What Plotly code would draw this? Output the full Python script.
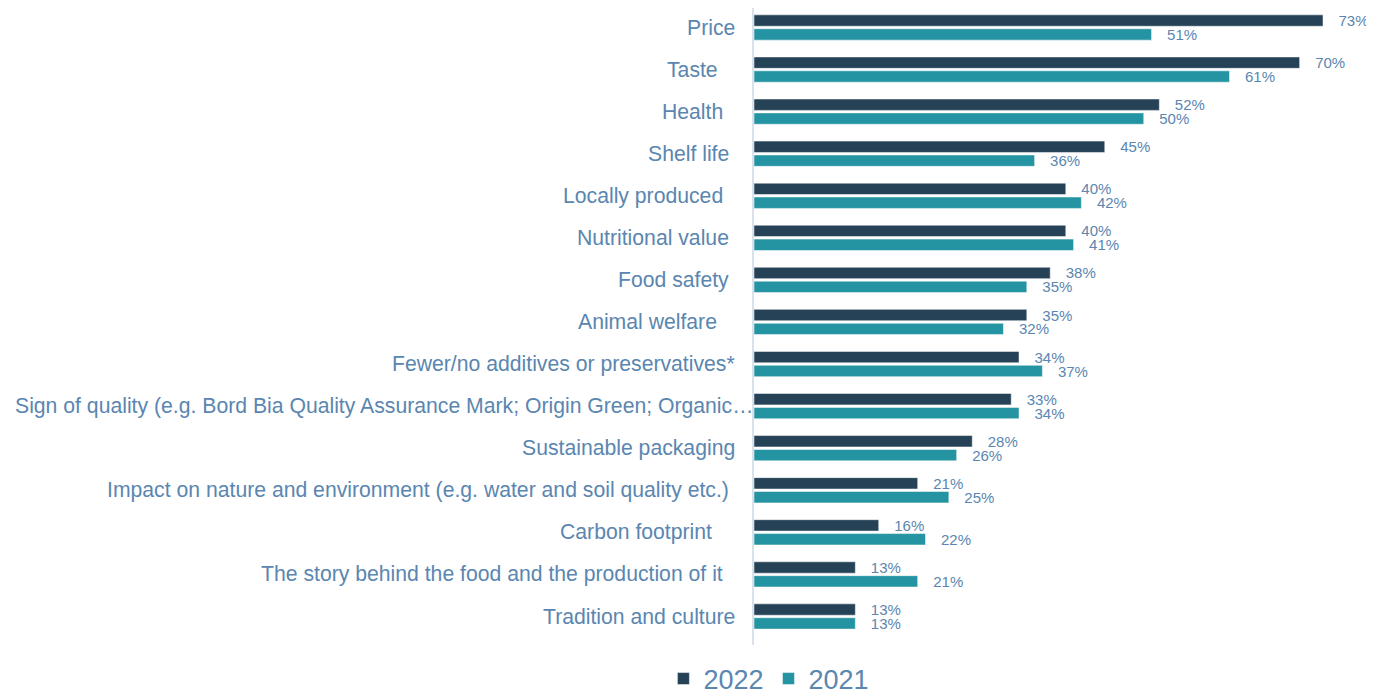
import plotly.graph_objects as go

categories = [
    "Price",
    "Taste",
    "Health",
    "Shelf life",
    "Locally produced",
    "Nutritional value",
    "Food safety",
    "Animal welfare",
    "Fewer/no additives or preservatives*",
    "Sign of quality (e.g. Bord Bia Quality Assurance Mark; Origin Green; Organic…",
    "Sustainable packaging",
    "Impact on nature and environment (e.g. water and soil quality etc.)",
    "Carbon footprint",
    "The story behind the food and the production of it",
    "Tradition and culture",
]
# trailing spaces in the original labels (negative = label overflows toward axis)
label_pad = [0, 3, 2, 1, 2, 1, 1, 3, 0, -3, 0, 1, 4, 2, 0]
values_2022 = [73, 70, 52, 45, 40, 40, 38, 35, 34, 33, 28, 21, 16, 13, 13]
values_2021 = [51, 61, 50, 36, 42, 41, 35, 32, 37, 34, 26, 25, 22, 21, 13]

NAVY = "#264257"
TEAL = "#2494A2"
LABEL = "#5A86B0"
FONT = "Liberation Sans, Arial, sans-serif"
TICK_SIZE = 21.2
SPACE_W = 0.278 * TICK_SIZE


def lbl(vals):
    return ["\u00a0\u00a0\u00a0%d%%" % v for v in vals]


fig = go.Figure()
for name, vals, col in [("2022", values_2022, NAVY), ("2021", values_2021, TEAL)]:
    fig.add_trace(go.Bar(
        y=categories, x=vals, name=name, orientation="h",
        marker=dict(color=col, line=dict(color="white", width=0.5)),
        text=lbl(vals), textposition="outside", cliponaxis=False,
        constraintext="none",
        textfont=dict(color=LABEL, size=15, family=FONT),
    ))

annotations = []
for cat, pad in zip(categories, label_pad):
    annotations.append(dict(
        x=0, xref="paper", y=cat, yref="y",
        text=cat + "\u00a0" * max(pad, 0),
        xanchor="right", yanchor="middle",
        xshift=-17 - min(pad, 0) * SPACE_W,
        showarrow=False,
        font=dict(size=TICK_SIZE, color=LABEL, family=FONT),
    ))

fig.update_layout(
    width=1366, height=681,
    margin=dict(l=746, r=12, t=0, b=44, autoexpand=False),
    paper_bgcolor="white", plot_bgcolor="white",
    barmode="group", bargap=0.34, bargroupgap=0.18,
    font=dict(family=FONT, color=LABEL),
    showlegend=True,
    legend=dict(
        orientation="h", xref="paper", yref="paper",
        x=-0.149, xanchor="left", y=-0.0534, yanchor="middle",
        font=dict(size=27, color=LABEL, family=FONT),
        traceorder="normal", itemwidth=30,
    ),
    annotations=annotations,
    xaxis=dict(range=[0, 78], visible=False, showgrid=False, zeroline=False),
    yaxis=dict(
        categoryorder="array", categoryarray=categories,
        range=[14.678, -0.4635], automargin=False,
        showticklabels=False,
        showline=True, linecolor="#D9E1EA", linewidth=2,
        ticks="", showgrid=False,
    ),
)

fig.write_html("out.html")
